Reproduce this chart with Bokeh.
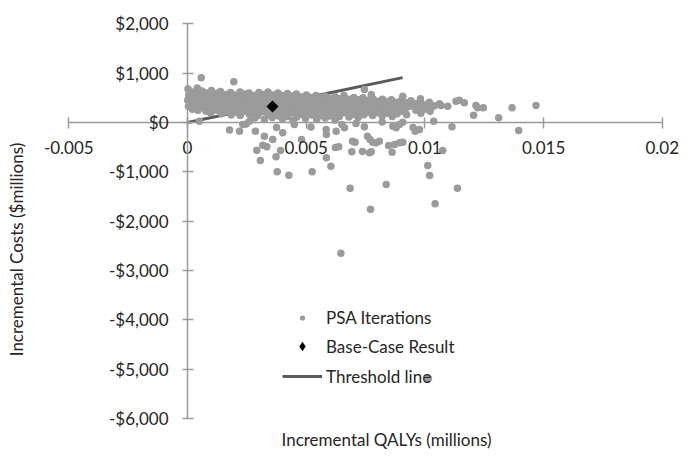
from math import pi
from bokeh.plotting import figure
from bokeh.models import Range1d, FixedTicker, Label, Legend, LegendItem
from bokeh.embed import file_html
from bokeh.resources import INLINE

# ---------------- data ----------------
x_ticks = [-0.005, 0, 0.005, 0.01, 0.015, 0.02]
x_tick_labels = ["-0.005", "0", "0.005", "0.01", "0.015", "0.02"]
y_ticks = [2000, 1000, 0, -1000, -2000, -3000, -4000, -5000, -6000]
y_tick_labels = ["$2,000", "$1,000", "$0", "-$1,000", "-$2,000", "-$3,000",
                 "-$4,000", "-$5,000", "-$6,000"]

# PSA iterations: (incremental QALYs in millions, incremental costs in $millions)
psa_band = [
    (0.00002, 680), (0.00005, 560), (0.00001, 450), (0.00004, 330),
    (0.00022, 620), (0.00019, 500), (0.00024, 390), (0.00021, 270),
    (0.00041, 700), (0.00038, 580), (0.00043, 470), (0.00040, 350), (0.00044, 250),
    (0.00061, 640), (0.00058, 520), (0.00063, 410), (0.00060, 300),
    (0.00079, 600), (0.00083, 480), (0.00081, 360), (0.00078, 230),
    (0.00101, 650), (0.00098, 540), (0.00103, 420), (0.00100, 310), (0.00097, 200),
    (0.00121, 590), (0.00118, 470), (0.00123, 350), (0.00120, 250),
    (0.00139, 630), (0.00142, 510), (0.00140, 400), (0.00137, 280), (0.00143, 180),
    (0.00161, 570), (0.00158, 450), (0.00163, 330), (0.00160, 220),
    (0.00181, 610), (0.00178, 500), (0.00183, 380), (0.00180, 260), (0.00184, 150),
    (0.00199, 560), (0.00202, 440), (0.00198, 320), (0.00203, 210),
    (0.00221, 620), (0.00218, 490), (0.00223, 370), (0.00219, 270), (0.00222, 140),
    (0.00241, 580), (0.00238, 460), (0.00243, 340), (0.00240, 230),
    (0.00259, 600), (0.00262, 500), (0.00258, 390), (0.00263, 280), (0.00260, 170),
    (0.00281, 550), (0.00278, 430), (0.00283, 310), (0.00280, 200), (0.00284, 90),
    (0.00301, 610), (0.00298, 480), (0.00303, 360), (0.00300, 250), (0.00297, 140),
    (0.00321, 570), (0.00318, 450), (0.00323, 330), (0.00320, 220), (0.00324, 60),
    (0.00339, 620), (0.00342, 510), (0.00338, 390), (0.00343, 270), (0.00340, 160),
    (0.00361, 560), (0.00358, 440), (0.00363, 320), (0.00360, 210), (0.00357, 100),
    (0.00381, 600), (0.00378, 480), (0.00383, 360), (0.00380, 250), (0.00384, 130),
    (0.00399, 550), (0.00402, 430), (0.00398, 300), (0.00403, 190), (0.00400, 70),
    (0.00421, 590), (0.00418, 470), (0.00423, 350), (0.00419, 240), (0.00422, 120),
    (0.00441, 540), (0.00438, 420), (0.00443, 310), (0.00440, 200), (0.00444, 40),
    (0.00459, 580), (0.00462, 460), (0.00458, 340), (0.00463, 230), (0.00460, 110),
    (0.00481, 520), (0.00478, 400), (0.00483, 290), (0.00480, 170),
    (0.00501, 560), (0.00498, 440), (0.00503, 330), (0.00500, 220), (0.00497, 80),
    (0.00519, 510), (0.00522, 390), (0.00518, 270), (0.00523, 150),
    (0.00541, 550), (0.00538, 430), (0.00543, 320), (0.00540, 200), (0.00544, 60),
    (0.00561, 500), (0.00558, 380), (0.00563, 260), (0.00560, 140),
    (0.00579, 540), (0.00582, 420), (0.00578, 310), (0.00583, 190), (0.00580, 90),
    (0.00601, 490), (0.00598, 370), (0.00603, 250), (0.00600, 130),
    (0.00621, 530), (0.00618, 410), (0.00623, 300), (0.00619, 180), (0.00622, 50),
    (0.00641, 480), (0.00638, 360), (0.00643, 240), (0.00640, 120),
    (0.00659, 550), (0.00662, 430), (0.00658, 310), (0.00663, 200),
    (0.00681, 470), (0.00678, 350), (0.00683, 230), (0.00680, 110),
    (0.00701, 510), (0.00698, 400), (0.00703, 290), (0.00700, 170),
    (0.00721, 460), (0.00718, 340), (0.00723, 220), (0.00719, 100),
    (0.00739, 500), (0.00742, 390), (0.00738, 280), (0.00743, 160),
    (0.00761, 450), (0.00758, 330), (0.00763, 210),
    (0.00781, 480), (0.00778, 370), (0.00783, 260), (0.00780, 140),
    (0.00799, 430), (0.00802, 320), (0.00798, 200),
    (0.00821, 470), (0.00818, 360), (0.00823, 250), (0.00820, 130),
    (0.00841, 420), (0.00838, 300), (0.00843, 190),
    (0.00859, 460), (0.00862, 350), (0.00858, 240), (0.00863, 120),
    (0.00881, 410), (0.00878, 290), (0.00883, 180),
    (0.00901, 450), (0.00898, 340), (0.00903, 230),
    (0.00921, 400), (0.00918, 280), (0.00923, 160),
    (0.00941, 440), (0.00938, 330),
    (0.00959, 380), (0.00962, 250),
    (0.00981, 420), (0.00978, 300), (0.00983, 190),
    (0.01001, 360), (0.00998, 270),
    (0.01019, 410), (0.01022, 230),
    (0.01041, 340),
]

psa_scattered = [
    (0.00058, 910), (0.00195, 825), (0.00745, 669), (0.00774, 568),
    (0.00907, 533), (0.00981, 480),
    (0.01026, 298), (0.01037, 26), (0.01061, 379), (0.01068, 345),
    (0.01096, 331), (0.01114, -87), (0.01131, 432), (0.01145, 452),
    (0.01166, 400), (0.01205, 148), (0.01215, 345), (0.01222, 298),
    (0.01246, 298), (0.01311, 95), (0.01367, 298), (0.01395, -162),
    (0.01468, 345), (0.00907, 6), (0.00959, -176), (0.00977, -142),
    (0.00865, -75), (0.00879, -108),
    (0.00050, 26), (0.00177, -150), (0.00219, -176), (0.00233, -41),
    (0.00261, 26), (0.00247, -30), (0.00286, -176), (0.00292, -562),
    (0.00307, -771), (0.00317, -460), (0.00334, -493), (0.00324, -278),
    (0.00359, -345), (0.00401, -209), (0.00373, -696), (0.00378, -1000),
    (0.00392, -568), (0.00427, -1069), (0.00525, -1000), (0.00584, -142),
    (0.00585, -716), (0.00604, -886), (0.00623, -507), (0.00637, -493),
    (0.00646, -2651), (0.00685, -1335), (0.00692, -594), (0.00706, -399),
    (0.00745, -87), (0.00737, -588), (0.00767, -615), (0.00774, -594),
    (0.00771, -1758), (0.00769, -345), (0.00780, -399), (0.00795, -412),
    (0.00837, -1258), (0.00847, -467), (0.00862, -602), (0.00872, -446),
    (0.00893, -412), (0.00907, -399), (0.01012, -872), (0.01020, -1075),
    (0.01043, -1649), (0.01075, -568), (0.01137, -1332), (0.01015, -5193),
    (0.00375, -100), (0.00450, -40), (0.00520, -90), (0.00650, -40),
    (0.00710, -20), (0.00820, 10),
    (0.00480, -345), (0.00585, -243), (0.00626, -176), (0.00661, -108),
    (0.00695, -379), (0.00758, -278), (0.00808, -379), (0.00893, -41),
    (0.00950, -100),
]

psa_qalys = [q for q, c in psa_band + psa_scattered]
psa_costs = [c for q, c in psa_band + psa_scattered]

base_case_qalys = [0.00358]
base_case_costs = [325]

threshold_qalys = [0.0, 0.00906]
threshold_costs = [0.0, 910.0]

# axis extents (axes cross at zero, as in the spreadsheet original)
x_axis_bounds = (-0.005, 0.02)
y_axis_bounds = (-6000, 2000)

# ---------------- figure ----------------
FONT = "Lato"
FS = "17px"
TEXT = "#262626"
AXIS = "#9a9a9a"

# the frame spans the whole canvas so that axis labels drawn at the
# zero-crossing are not clipped; the visible axis lines keep the bounds above
p = figure(width=684, height=451,
           min_border_left=0, min_border_right=0,
           min_border_top=0, min_border_bottom=0,
           x_range=Range1d(-0.007877, 0.020935), y_range=Range1d(-6673, 2475),
           output_backend="svg", toolbar_location=None,
           background_fill_color="white", border_fill_color="white")
p.outline_line_color = None
p.grid.visible = False

thr = p.line(threshold_qalys, threshold_costs, line_color="#5a5a5a", line_width=3)
psa = p.scatter(psa_qalys, psa_costs, size=7.5, fill_color="#9b9b9b",
                line_color=None)
base = p.scatter(base_case_qalys, base_case_costs, marker="square", angle=pi / 4,
                 size=8.5, fill_color="black", line_color=None)
# legend proxies (no data drawn)
psa_key = p.scatter([float("nan")], [float("nan")], fill_color="#9b9b9b", line_color=None)
base_key = p.scatter([float("nan")], [float("nan")], marker="diamond",
                     fill_color="black", line_color=None)

for ax in (p.xaxis[0], p.yaxis[0]):
    ax.fixed_location = 0
    ax.axis_line_color = AXIS
    ax.axis_line_width = 1.5
    ax.major_tick_line_color = AXIS
    ax.major_tick_line_width = 1.5
    ax.minor_tick_line_color = None
    ax.major_label_text_font = FONT
    ax.major_label_text_font_size = FS
    ax.major_label_text_color = TEXT

p.xaxis[0].bounds = x_axis_bounds
p.xaxis[0].ticker = FixedTicker(ticks=x_ticks)
p.xaxis[0].major_label_overrides = dict(zip(x_ticks, x_tick_labels))
p.xaxis[0].major_tick_in = 5
p.xaxis[0].major_tick_out = 6
p.xaxis[0].major_label_standoff = 12

p.yaxis[0].bounds = y_axis_bounds
p.yaxis[0].ticker = FixedTicker(ticks=y_ticks)
p.yaxis[0].major_label_overrides = dict(zip(y_ticks, y_tick_labels))
p.yaxis[0].major_tick_in = 6
p.yaxis[0].major_tick_out = 5
p.yaxis[0].major_label_standoff = 14

p.add_layout(Label(x=386, y=12, x_units="screen", y_units="screen",
                   text="Incremental QALYs (millions)", text_font=FONT,
                   text_font_size=FS, text_color=TEXT,
                   text_align="center", text_baseline="middle"))
p.add_layout(Label(x=16, y=202, x_units="screen", y_units="screen", angle=pi / 2,
                   text="Incremental Costs ($millions)", text_font=FONT,
                   text_font_size=FS, text_color=TEXT,
                   text_align="center", text_baseline="middle"))

common = dict(padding=0, margin=0, spacing=0, glyph_width=40, label_height=24,
              label_standoff=4, border_line_color=None, background_fill_alpha=0,
              label_text_font=FONT, label_text_font_size=FS,
              label_text_color=TEXT)
p.add_layout(Legend(items=[LegendItem(label="PSA Iterations", renderers=[psa_key])],
                    location=(282, 122), glyph_height=13, **common))
p.add_layout(Legend(items=[LegendItem(label="Base-Case Result", renderers=[base_key])],
                    location=(282, 93), glyph_height=24, **common))
p.add_layout(Legend(items=[LegendItem(label="Threshold line", renderers=[thr])],
                    location=(282, 63), glyph_height=24, **common))

open("out.html", "w").write(file_html(p, INLINE))
